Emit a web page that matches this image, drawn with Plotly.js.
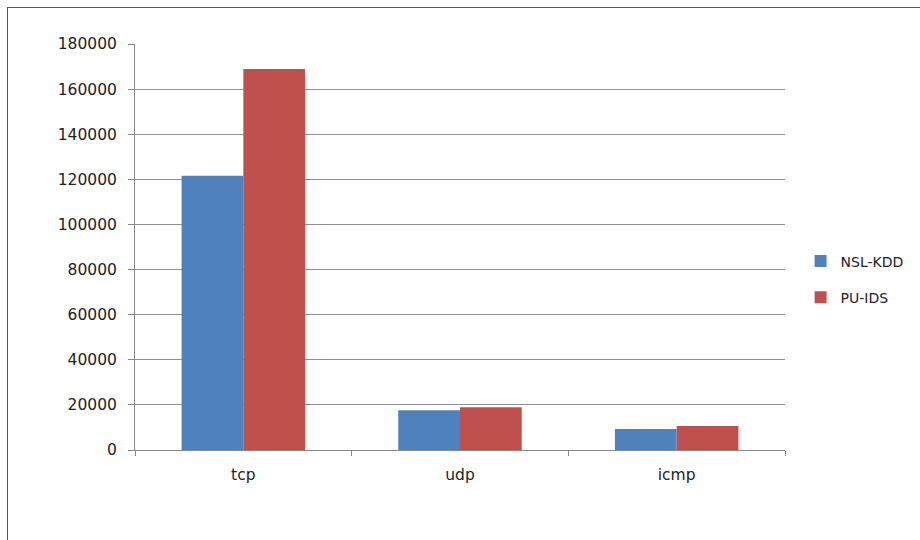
<!DOCTYPE html>
<html>
<head>
<meta charset="utf-8">
<script src="https://cdn.plot.ly/plotly-3.0.1.min.js"></script>
<style>
html,body{margin:0;padding:0;background:#fff;}
#wrap{position:relative;width:920px;height:540px;overflow:hidden;}
#chart{position:absolute;left:0;top:0;width:920px;height:540px;}
#frame{position:absolute;left:7px;top:7px;width:930px;height:560px;border:1.5px solid #555;box-sizing:border-box;pointer-events:none;}
</style>
</head>
<body>
<div id="wrap"><div id="chart"></div><div id="frame"></div></div>
<script>
var categories = ["tcp", "udp", "icmp"];
var nslKdd = [121569, 17614, 9334];
var puIds = [168900, 19000, 10650];
var yTicks = [0, 20000, 40000, 60000, 80000, 100000, 120000, 140000, 160000, 180000];

var font = {family: "DejaVu Sans, Verdana, sans-serif", size: 15.5, color: "#222"};
var legendFont = {family: "DejaVu Sans, Verdana, sans-serif", size: 14, color: "#222"};

var traces = [
  {type: "bar", name: "NSL-KDD", x: categories, y: nslKdd, marker: {color: "#4F81BD"}, legendgroup: "a"},
  {type: "bar", name: "PU-IDS", x: categories, y: puIds, marker: {color: "#C0504D"}, legendgroup: "b"}
];

var layout = {
  width: 920, height: 540,
  margin: {l: 135, r: 135, t: 44, b: 90, autoexpand: false},
  paper_bgcolor: "#fff", plot_bgcolor: "#fff",
  barmode: "group", bargap: 0.43, bargroupgap: 0,
  font: font,
  showlegend: true,
  legend: {x: 1.024, y: 0.42, xanchor: "left", yanchor: "middle", tracegroupgap: 15, font: legendFont, bgcolor: "rgba(0,0,0,0)"},
  xaxis: {
    type: "category", showgrid: false, showline: true, linecolor: "#888", linewidth: 1,
    ticks: "outside", tickson: "boundaries", ticklen: 5, tickcolor: "#888",
    tickfont: font, zeroline: false, ticklabelstandoff: 10
  },
  yaxis: {
    range: [0, 180000], tickvals: yTicks, ticktext: yTicks.map(String),
    showgrid: true, gridcolor: "#8f8f8f", gridwidth: 1,
    showline: true, linecolor: "#888", linewidth: 1,
    ticks: "outside", ticklen: 6, tickcolor: "#888",
    tickfont: font, zeroline: false, fixedrange: true, ticklabelstandoff: 8
  }
};

Plotly.newPlot("chart", traces, layout, {displayModeBar: false, staticPlot: true});
</script>
</body>
</html>
